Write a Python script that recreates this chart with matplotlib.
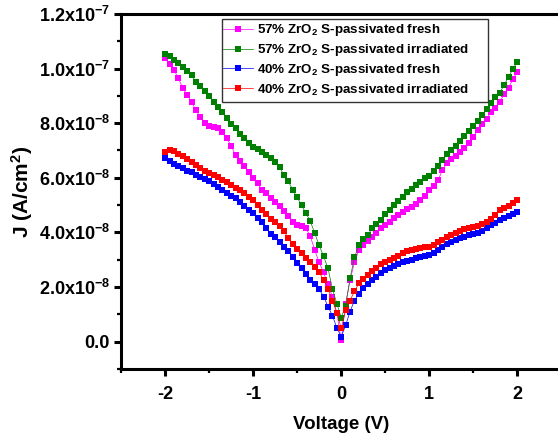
import numpy as np
import matplotlib
matplotlib.use('Agg')
import matplotlib.pyplot as plt
from matplotlib.patches import Rectangle
from matplotlib.ticker import MultipleLocator, FixedLocator

plt.rcParams['font.family'] = 'Liberation Sans'
plt.rcParams['font.weight'] = 'bold'
plt.rcParams['mathtext.fontset'] = 'custom'
plt.rcParams['mathtext.rm'] = 'Liberation Sans:bold'
plt.rcParams['mathtext.it'] = 'Liberation Sans:bold'
plt.rcParams['mathtext.bf'] = 'Liberation Sans:bold'
plt.rcParams['mathtext.default'] = 'rm'

# Voltage sweep, -2 V to 2 V in 50 mV steps
voltage = np.linspace(-2.0, 2.0, 81)

# Current density in units of 1e-8 A/cm^2
j_57_fresh = [10.39, 10.17, 9.95, 9.65, 9.29, 9.03, 8.77, 8.48, 8.22, 8.00,
              7.89, 7.85, 7.82, 7.67, 7.45, 7.16, 6.83, 6.61, 6.42, 6.20,
              5.98, 5.80, 5.54, 5.43, 5.25, 5.10, 4.95, 4.77, 4.59, 4.37,
              4.26, 4.22, 4.15, 3.85, 3.34, 2.90, 2.53, 2.09, 1.65, 1.06,
              0.04,
              1.39, 2.24, 2.90, 3.34, 3.52, 3.67, 3.82, 3.96, 4.15, 4.26,
              4.37, 4.51, 4.62, 4.73, 4.84, 4.92, 5.03, 5.17, 5.32, 5.54,
              5.69, 5.91, 6.28, 6.53, 6.68, 6.79, 6.94, 7.08, 7.27, 7.49,
              7.74, 7.96, 8.15, 8.40, 8.55, 8.77, 9.06, 9.29, 9.62, 9.87]

j_57_irr = [10.53, 10.46, 10.31, 10.20, 10.06, 9.91, 9.76, 9.51, 9.36, 9.18,
            8.99, 8.77, 8.59, 8.40, 8.18, 7.96, 7.82, 7.60, 7.45, 7.27,
            7.12, 7.05, 6.94, 6.83, 6.72, 6.57, 6.39, 6.09, 5.87, 5.54,
            5.28, 4.99, 4.70, 4.40, 3.96, 3.52, 3.12, 2.68, 1.94, 1.39,
            0.88,
            1.32, 2.31, 3.08, 3.52, 3.74, 3.89, 4.15, 4.29, 4.44, 4.66,
            4.81, 4.99, 5.14, 5.28, 5.47, 5.58, 5.73, 5.84, 5.98, 6.06,
            6.24, 6.42, 6.64, 6.86, 7.01, 7.16, 7.34, 7.52, 7.71, 7.89,
            8.07, 8.29, 8.51, 8.73, 8.95, 9.10, 9.40, 9.69, 9.98, 10.24]

j_40_fresh = [6.72, 6.61, 6.50, 6.42, 6.35, 6.24, 6.20, 6.09, 6.02, 5.95,
              5.87, 5.76, 5.65, 5.54, 5.43, 5.32, 5.25, 5.10, 4.95, 4.81,
              4.70, 4.51, 4.37, 4.15, 3.93, 3.82, 3.63, 3.45, 3.30, 3.08,
              2.86, 2.68, 2.46, 2.24, 2.09, 1.91, 1.65, 1.28, 0.95, 0.51,
              0.18,
              0.59, 1.10, 1.50, 1.76, 1.95, 2.09, 2.24, 2.35, 2.50, 2.61,
              2.68, 2.75, 2.83, 2.90, 2.94, 2.97, 3.05, 3.08, 3.12, 3.16,
              3.23, 3.34, 3.45, 3.56, 3.63, 3.71, 3.78, 3.82, 3.89, 3.93,
              3.96, 4.04, 4.15, 4.26, 4.33, 4.44, 4.51, 4.59, 4.66, 4.73]

j_40_irr = [6.94, 7.01, 6.97, 6.86, 6.79, 6.68, 6.57, 6.46, 6.35, 6.24,
            6.17, 6.09, 6.02, 5.91, 5.84, 5.73, 5.62, 5.54, 5.43, 5.28,
            5.17, 4.99, 4.81, 4.66, 4.48, 4.37, 4.22, 4.04, 3.78, 3.56,
            3.38, 3.23, 3.05, 2.90, 2.72, 2.53, 2.27, 1.94, 1.50, 1.06,
            0.48,
            1.14, 1.50, 1.84, 2.13, 2.28, 2.42, 2.57, 2.68, 2.83, 2.90,
            2.97, 3.05, 3.12, 3.23, 3.30, 3.34, 3.38, 3.41, 3.45, 3.45,
            3.52, 3.63, 3.71, 3.82, 3.89, 3.96, 4.04, 4.11, 4.15, 4.18,
            4.22, 4.29, 4.37, 4.48, 4.62, 4.81, 4.88, 4.95, 5.06, 5.17]

series = [
    (j_57_fresh, '#ff00ff', '57% ZrO$_2$ S-passivated fresh'),
    (j_57_irr, '#008000', '57% ZrO$_2$ S-passivated irradiated'),
    (j_40_fresh, '#0000ff', '40% ZrO$_2$ S-passivated fresh'),
    (j_40_irr, '#ff0000', '40% ZrO$_2$ S-passivated irradiated'),
]

ytick_vals = [0.0, 2e-8, 4e-8, 6e-8, 8e-8, 1e-7, 1.2e-7]
ytick_labels = ['0.0', '2.0x10$^{-8}$', '4.0x10$^{-8}$', '6.0x10$^{-8}$',
                '8.0x10$^{-8}$', '1.0x10$^{-7}$', '1.2x10$^{-7}$']
xtick_vals = [-2, -1, 0, 1, 2]
xtick_labels = ['-2', '-1', '0', '1', '2']

fig = plt.figure(figsize=(5.58, 4.36), dpi=100)
ax = fig.add_axes([0.217, 0.154, 0.789, 0.814])

for j, color, label in series:
    ax.plot(voltage, np.array(j) * 1e-8, color=color, lw=0.5, marker='s',
            markersize=5.0, markeredgewidth=0, label=label)

ax.set_xlim(-2.5, 2.5)
ax.set_ylim(-1e-8, 1.2e-7)
ax.xaxis.set_major_locator(FixedLocator(xtick_vals))
ax.xaxis.set_minor_locator(MultipleLocator(0.5))
ax.yaxis.set_major_locator(FixedLocator(ytick_vals))
ax.yaxis.set_minor_locator(MultipleLocator(1e-8))
ax.set_yticklabels(ytick_labels)
ax.set_xticklabels(xtick_labels)

for side in ['left', 'bottom', 'top', 'right']:
    ax.spines[side].set_linewidth(2.2)
ax.tick_params(which='major', direction='out', length=5, width=2.2,
               labelsize=13)
ax.tick_params(axis='y', which='major', pad=3)
ax.tick_params(axis='x', which='major', pad=7)
ax.tick_params(which='minor', direction='out', length=3, width=1.6)
ax.tick_params(which='both', top=False, right=False)

ax.set_xlabel('Voltage (V)', fontsize=13.5, fontweight='bold', labelpad=10)
ax.set_ylabel('J (A/cm$^2$)', fontsize=15, fontweight='bold', labelpad=3)

leg = ax.legend(loc='upper left', bbox_to_anchor=(0.232, 0.976),
                borderaxespad=0, frameon=False, fontsize=9.6,
                handlelength=2.2, handletextpad=0.35, labelspacing=0.28,
                borderpad=0)

# Box around the legend, open a little on the right like the original layout
fig.canvas.draw()
bb = leg.get_window_extent()
box = Rectangle((bb.x0 - 1, bb.y0 - 4), bb.width + 20, bb.height + 7,
                transform=None, fill=False, edgecolor='#333333', lw=1.0,
                zorder=10)
fig.patches.append(box)

fig.savefig('out.png', dpi=100)
